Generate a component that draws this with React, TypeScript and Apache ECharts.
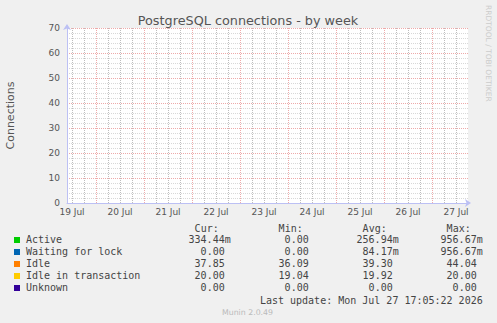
import React, { useEffect, useRef } from "react";
import * as echarts from "echarts";

// ---- data ----
const title = "PostgreSQL connections - by week";
const yAxisName = "Connections";
const yTicks = [0, 10, 20, 30, 40, 50, 60, 70];
// x axis in hours since 19 Jul 00:00
const xMin = 9.5;
const xMax = 210;
const dayLabels = ["19 Jul", "20 Jul", "21 Jul", "22 Jul", "23 Jul", "24 Jul", "25 Jul", "26 Jul", "27 Jul"];
const dayLabelHours = [12, 36, 60, 84, 108, 132, 156, 180, 204];
const majorXHours = [24, 48, 72, 96, 120, 144, 168, 192];
const minorXHours = [12, 18, 30, 36, 42, 54, 60, 66, 78, 84, 90, 102, 108, 114, 126, 132, 138, 150, 156, 162, 174, 180, 186, 198, 204];

const seriesNames = ["Active", "Waiting for lock", "Idle", "Idle in transaction", "Unknown"];
const seriesColors = ["#00cc00", "#0066b3", "#ff8000", "#ffcc00", "#330099"];
// the graph area shows no drawn data
const activeData: [number, number][] = [];
const waitingData: [number, number][] = [];
const idleData: [number, number][] = [];
const idleTxData: [number, number][] = [];
const unknownData: [number, number][] = [];
const seriesData = [activeData, waitingData, idleData, idleTxData, unknownData];

const colHeaders = ["Cur:", "Min:", "Avg:", "Max:"];
const curValues = ["334.44m", "0.00", "37.85", "20.00", "0.00"];
const minValues = ["0.00", "0.00", "36.09", "19.04", "0.00"];
const avgValues = ["256.94m", "84.17m", "39.30", "19.92", "0.00"];
const maxValues = ["956.67m", "956.67m", "44.04", "20.00", "0.00"];
const lastUpdate = "Last update: Mon Jul 27 17:05:22 2026";
const muninVersion = "Munin 2.0.49";
const rrdCredit = "RRDTOOL / TOBI OETIKER";

const MONO = "'DejaVu Sans Mono', monospace";
const SANS = "'DejaVu Sans', sans-serif";
const MINOR_COLOR = "#bdbdbd";
const MAJOR_COLOR = "#eeaaaa";

export default function App() {
  const ref = useRef<HTMLDivElement>(null);
  useEffect(() => {
    document.body.style.margin = "0";
    document.body.style.background = "#f0f0f0";
    if (!ref.current) return;
    const chart = echarts.init(ref.current, null, { renderer: "svg" });

    const graphics: any[] = [];
    graphics.push({
      type: "text", x: 248, y: 20,
      style: { text: title, fontFamily: SANS, fontSize: 12.8, fill: "#555", textAlign: "center", textVerticalAlign: "middle" },
    });
    graphics.push({
      type: "text", x: 488, y: 5, rotation: -Math.PI / 2,
      style: { text: rrdCredit, fontFamily: SANS, fontSize: 7.5, fill: "#cccccc", textAlign: "left", textVerticalAlign: "middle" },
    });
    const rowY = [239.5, 251.5, 263.5, 275.5, 287.5];
    const colRight = [230.7, 314.7, 398.7, 482.7];
    const cols = [curValues, minValues, avgValues, maxValues];
    colHeaders.forEach((h, i) => {
      graphics.push({
        type: "text", x: colRight[i] - 12, y: 228,
        style: { text: h, fontFamily: MONO, fontSize: 10, fill: "#444", textAlign: "right", textVerticalAlign: "middle" },
      });
    });
    seriesNames.forEach((name, r) => {
      graphics.push({ type: "rect", shape: { x: 14, y: rowY[r] - 2.5, width: 6, height: 6 }, style: { fill: seriesColors[r] } });
      graphics.push({
        type: "text", x: 26, y: rowY[r],
        style: { text: name, fontFamily: MONO, fontSize: 10, fill: "#444", textAlign: "left", textVerticalAlign: "middle" },
      });
      cols.forEach((col, c) => {
        const v = col[r];
        const hasSuffix = /[a-zA-Z]$/.test(v);
        graphics.push({
          type: "text", x: colRight[c] - (hasSuffix ? 0 : 6), y: rowY[r],
          style: { text: v, fontFamily: MONO, fontSize: 10, fill: "#444", textAlign: "right", textVerticalAlign: "middle" },
        });
      });
    });
    graphics.push({
      type: "text", x: 482.7, y: 300,
      style: { text: lastUpdate, fontFamily: MONO, fontSize: 10, fill: "#444", textAlign: "right", textVerticalAlign: "middle" },
    });
    graphics.push({
      type: "text", x: 222, y: 312,
      style: { text: muninVersion, fontFamily: SANS, fontSize: 7.8, fill: "#bbbbbb", textAlign: "left", textVerticalAlign: "middle" },
    });

    const gridData = [
      ...minorXHours.map((v) => [v, 0]),
      ...majorXHours.map((v) => [v, 1]),
    ];

    chart.setOption({
      animation: false,
      backgroundColor: "#f0f0f0",
      grid: { left: 67, top: 28, right: 29, bottom: 120, show: true, backgroundColor: "#ffffff", borderWidth: 0, outerBoundsMode: "none", containLabel: false },
      graphic: graphics,
      xAxis: {
        type: "value",
        min: xMin,
        max: xMax,
        axisLine: { show: true, lineStyle: { color: "#bcc0f4", width: 1 }, symbol: ["none", "arrow"], symbolSize: [6, 6], symbolOffset: [0, 3] },
        axisTick: { show: false },
        splitLine: { show: false },
        axisLabel: {
          customValues: dayLabelHours,
          margin: 4,
          fontFamily: SANS,
          fontSize: 9,
          color: "#555",
          formatter: (v: number) => {
            const i = dayLabelHours.indexOf(Math.round(v));
            return i >= 0 ? dayLabels[i] : "";
          },
        },
      },
      yAxis: {
        type: "value",
        min: 0,
        max: 70,
        interval: 10,
        name: yAxisName,
        nameLocation: "middle",
        nameGap: 51,
        nameTextStyle: { fontFamily: SANS, fontSize: 11, color: "#555" },
        axisLine: { show: true, lineStyle: { color: "#bcc0f4", width: 1 }, symbol: ["none", "arrow"], symbolSize: [6, 6], symbolOffset: [0, 4] },
        axisTick: { show: false },
        axisLabel: {
          margin: 7, fontFamily: SANS, fontSize: 9, color: "#555",
          formatter: (v: number) => (yTicks.indexOf(v) >= 0 ? String(v) : ""),
        },
        splitLine: { show: true, lineStyle: { color: MAJOR_COLOR, type: [1, 1], width: 1 } },
        minorTick: { show: false, splitNumber: 5 },
        minorSplitLine: { show: true, lineStyle: { color: "#d8d8d8", type: [1, 1], width: 1 } },
      },
      series: [
        {
          type: "custom",
          silent: true,
          z: 3,
          clip: false,
          encode: { x: 0 },
          data: gridData,
          renderItem: (_p: any, api: any) => {
            const v = api.value(0);
            const major = api.value(1) === 1;
            const p0 = api.coord([v, 0]);
            const p1 = api.coord([v, 70]);
            const x = Math.round(p0[0]) + 0.5;
            return {
              type: "line",
              shape: { x1: x, y1: p0[1], x2: x, y2: p1[1] },
              style: { stroke: major ? MAJOR_COLOR : MINOR_COLOR, lineWidth: 1, lineDash: [1, 1], fill: null },
              z2: major ? 2 : 1,
              silent: true,
            };
          },
        },
        ...seriesNames.map((name, i) => ({
          type: "line",
          name,
          data: seriesData[i],
          showSymbol: false,
          lineStyle: { color: seriesColors[i], width: 1 },
          z: 4,
        })),
      ],
    });
    return () => chart.dispose();
  }, []);
  return <div ref={ref} style={{ width: 497, height: 323 }} />;
}
